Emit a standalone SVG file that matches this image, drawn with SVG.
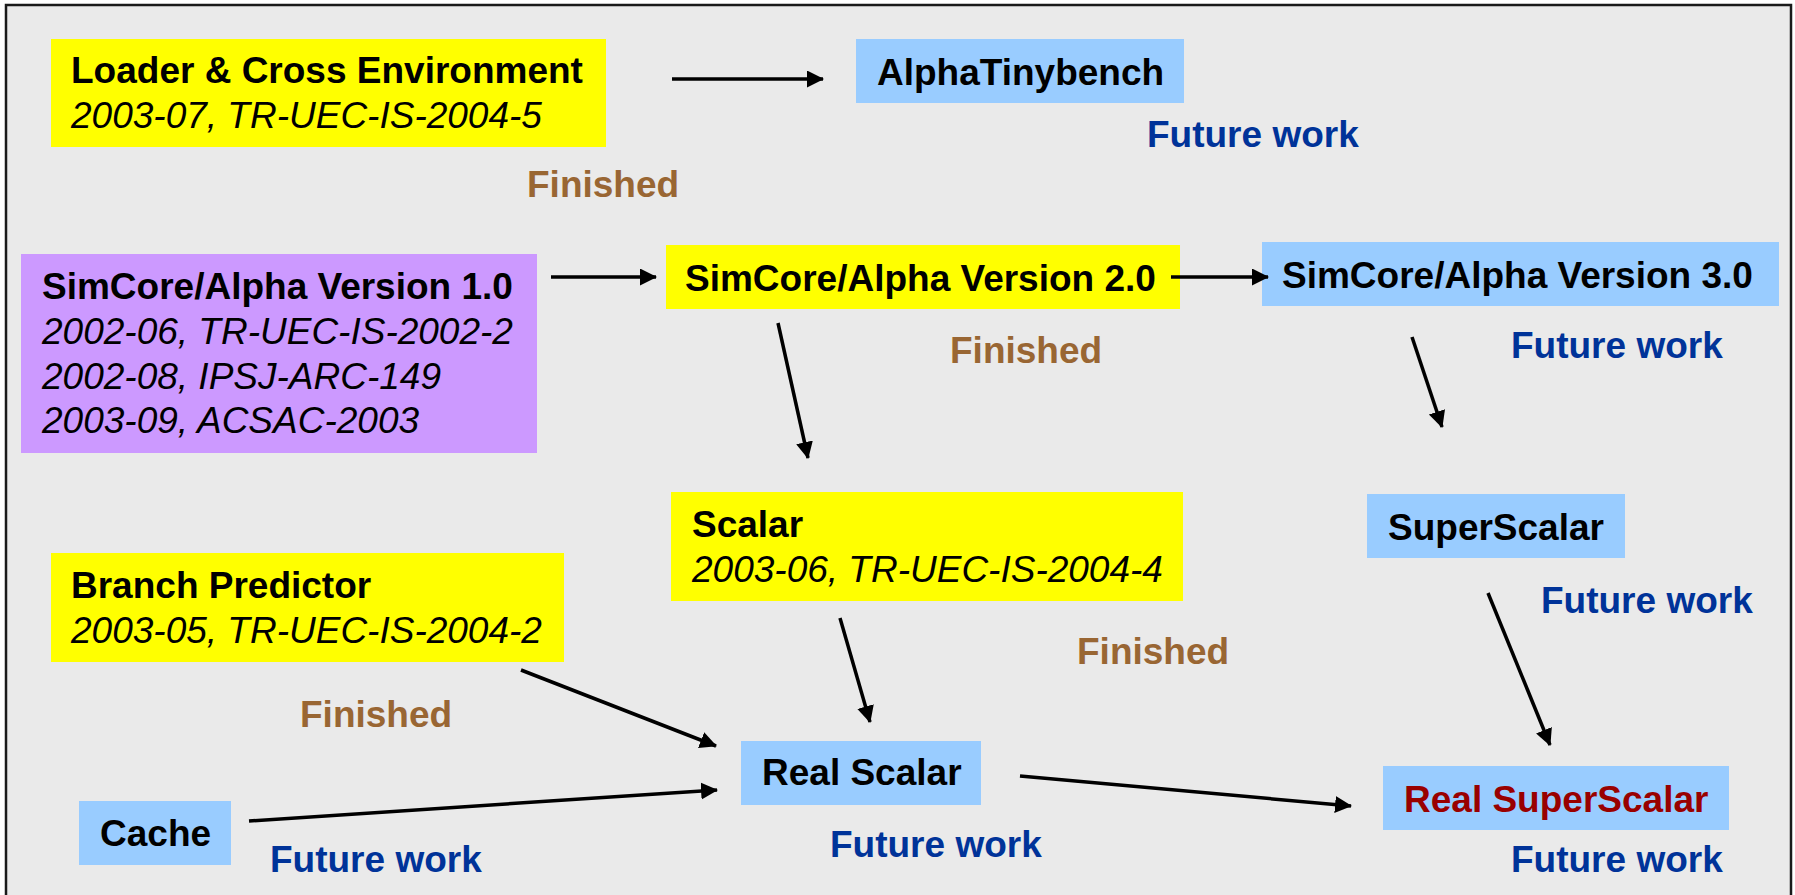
<svg xmlns="http://www.w3.org/2000/svg" width="1795" height="895" viewBox="0 0 1795 895">
<style>
text{font-family:"Liberation Sans",Arial,sans-serif;font-size:37px}
.t{font-weight:bold;fill:#000}
.i{font-style:italic;fill:#000}
.fin{font-weight:bold;fill:#996633}
.fut{font-weight:bold;fill:#003399}
.red{font-weight:bold;fill:#990000}
.y{fill:#FFFF00}
.b{fill:#99CCFF}
.p{fill:#CC99FF}
.c{stroke:#000;stroke-width:3.5;fill:none;marker-end:url(#ah)}
</style>
<defs>
<marker id="ah" markerUnits="userSpaceOnUse" markerWidth="18" markerHeight="18" refX="16" refY="8.5" orient="auto">
<path d="M0,0 L17,8.5 L0,17 z" fill="#000"/>
</marker>
</defs>
<rect x="0" y="0" width="1795" height="895" fill="#fff"/>
<rect x="6" y="5" width="1785" height="900" fill="#EAEAEA" stroke="#1a1a1a" stroke-width="2.5"/>

<g id="loader"><rect class="y" x="51" y="39" width="555" height="108"/><text class="t" x="71" y="83">Loader &amp; Cross Environment</text><text class="i" x="71" y="128">2003-07, TR-UEC-IS-2004-5</text></g>
<g id="alphatinybench"><rect class="b" x="856" y="39" width="328" height="64"/><text class="t" x="877" y="85">AlphaTinybench</text></g>
<g id="simcore1"><rect class="p" x="21" y="254" width="516" height="199"/><text class="t" x="42" y="299">SimCore/Alpha Version 1.0</text><text class="i" x="42" y="344">2002-06, TR-UEC-IS-2002-2</text><text class="i" x="42" y="389">2002-08, IPSJ-ARC-149</text><text class="i" x="42" y="433">2003-09, ACSAC-2003</text></g>
<g id="simcore2"><rect class="y" x="666" y="245" width="514" height="64"/><text class="t" x="685" y="291">SimCore/Alpha Version 2.0</text></g>
<g id="simcore3"><rect class="b" x="1262" y="242" width="517" height="64"/><text class="t" x="1282" y="288">SimCore/Alpha Version 3.0</text></g>
<g id="scalar"><rect class="y" x="671" y="492" width="512" height="109"/><text class="t" x="692" y="537">Scalar</text><text class="i" x="692" y="582">2003-06, TR-UEC-IS-2004-4</text></g>
<g id="superscalar"><rect class="b" x="1367" y="494" width="258" height="64"/><text class="t" x="1388" y="540">SuperScalar</text></g>
<g id="branch"><rect class="y" x="51" y="553" width="513" height="109"/><text class="t" x="71" y="598">Branch Predictor</text><text class="i" x="71" y="643">2003-05, TR-UEC-IS-2004-2</text></g>
<g id="realscalar"><rect class="b" x="741" y="741" width="240" height="64"/><text class="t" x="762" y="785">Real Scalar</text></g>
<g id="cache"><rect class="b" x="79" y="801" width="152" height="64"/><text class="t" x="100" y="846">Cache</text></g>
<g id="realsuperscalar"><rect class="b" x="1383" y="766" width="346" height="64"/><text class="red" x="1404" y="812">Real SuperScalar</text></g>

<g id="labels">
<text class="fin" x="527" y="197">Finished</text>
<text class="fut" x="1147" y="147">Future work</text>
<text class="fin" x="950" y="363">Finished</text>
<text class="fut" x="1511" y="358">Future work</text>
<text class="fut" x="1541" y="613">Future work</text>
<text class="fin" x="1077" y="664">Finished</text>
<text class="fin" x="300" y="727">Finished</text>
<text class="fut" x="830" y="857">Future work</text>
<text class="fut" x="270" y="872">Future work</text>
<text class="fut" x="1511" y="872">Future work</text>
</g>

<g id="connectors">
<line class="c" x1="672" y1="79" x2="823" y2="79"/>
<line class="c" x1="551" y1="277" x2="656" y2="277"/>
<line class="c" x1="1171" y1="277" x2="1268" y2="277"/>
<line class="c" x1="778" y1="323" x2="808" y2="458"/>
<line class="c" x1="1412" y1="337" x2="1442" y2="427"/>
<line class="c" x1="521" y1="670" x2="716" y2="746"/>
<line class="c" x1="249" y1="821" x2="717" y2="790"/>
<line class="c" x1="840" y1="618" x2="870" y2="722"/>
<line class="c" x1="1020" y1="776" x2="1351" y2="806"/>
<line class="c" x1="1488" y1="593" x2="1550" y2="745"/>
</g>
</svg>
